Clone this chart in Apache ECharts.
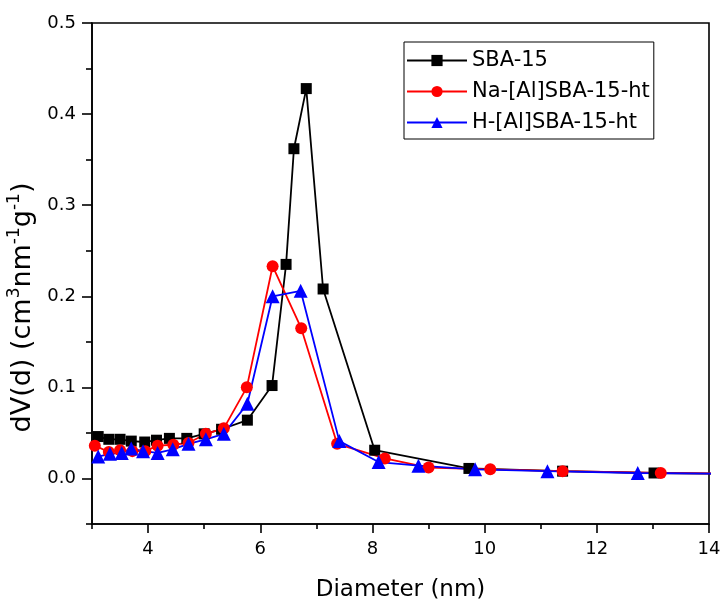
<!DOCTYPE html>
<html>
<head>
<meta charset="utf-8">
<script src="https://cdn.jsdelivr.net/npm/echarts@6/dist/echarts.min.js"></script>
<style>
  html, body { margin: 0; padding: 0; background: #fff; }
  #chart { width: 721px; height: 599px; }
</style>
</head>
<body>
<div id="chart"></div>
<script>
// pore size distribution
var seriesNames = ['SBA-15', 'Na-[Al]SBA-15-ht', 'H-[Al]SBA-15-ht'];

var sbaX = [3.11, 3.30, 3.50, 3.70, 3.94, 4.15, 4.38, 4.69, 5.00, 5.31, 5.77, 6.21, 6.46, 6.60, 6.82, 7.12, 8.04, 9.72, 11.39, 13.02, 14.7];
var sbaY = [0.046, 0.043, 0.043, 0.041, 0.040, 0.042, 0.044, 0.044, 0.049, 0.054, 0.064, 0.102, 0.235, 0.362, 0.428, 0.208, 0.031, 0.011, 0.008, 0.006, 0.005];

var naX = [3.05, 3.30, 3.50, 3.72, 3.95, 4.17, 4.45, 4.72, 5.03, 5.35, 5.76, 6.22, 6.73, 7.37, 8.22, 9.00, 10.10, 11.39, 13.14, 14.9];
var naY = [0.036, 0.029, 0.031, 0.030, 0.030, 0.036, 0.037, 0.039, 0.049, 0.055, 0.100, 0.233, 0.165, 0.038, 0.022, 0.012, 0.010, 0.008, 0.006, 0.005];

var hX = [3.11, 3.32, 3.53, 3.70, 3.91, 4.17, 4.44, 4.72, 5.03, 5.35, 5.77, 6.22, 6.72, 7.41, 8.11, 8.82, 9.83, 11.12, 12.73, 14.4];
var hY = [0.024, 0.027, 0.028, 0.033, 0.030, 0.028, 0.032, 0.038, 0.043, 0.049, 0.082, 0.200, 0.206, 0.041, 0.018, 0.014, 0.010, 0.008, 0.006, 0.005];

// ticks
var xMajor = [4, 6, 8, 10, 12, 14];
var xMinor = [3, 5, 7, 9, 11, 13];
var yMajor = [0, 0.1, 0.2, 0.3, 0.4, 0.5];
var yMinor = [-0.05, 0.05, 0.15, 0.25, 0.35, 0.45];

function pairs(xs, ys) {
  var out = [];
  for (var i = 0; i < xs.length; i++) out.push([xs[i], ys[i]]);
  return out;
}

var font = 'DejaVu Sans, Verdana, sans-serif';
var myChart = echarts.init(document.getElementById('chart'));

function makeSeries(name, data, color, symbol, size) {
  return {
    name: name,
    type: 'line',
    xAxisIndex: 0,
    yAxisIndex: 0,
    data: data,
    symbol: symbol,
    symbolSize: size,
    showAllSymbol: true,
    clip: true,
    color: color,
    lineStyle: { color: color, width: 1.8 },
    itemStyle: { color: color },
    emphasis: { disabled: true },
    animation: false
  };
}

var axisLineStyle = { color: '#000', width: 1.6 };

var option = {
  animation: false,
  grid: {
    left: 92, right: 12, top: 23, bottom: 75,
    outerBoundsMode: 'none',
    containLabel: false,
    show: true, borderColor: '#000', borderWidth: 1.6, backgroundColor: 'transparent'
  },
  legend: {
    orient: 'vertical',
    left: 404, top: 42,
    padding: [8, 4, 6, 2],
    borderColor: '#000', borderWidth: 1,
    itemWidth: 60, itemHeight: 14,
    itemGap: 10,
    textStyle: { fontFamily: font, fontSize: 21, color: '#000' },
    data: seriesNames
  },
  xAxis: [{
    type: 'value',
    position: 'bottom',
    min: 3, max: 14,
    name: 'Diameter (nm)',
    nameLocation: 'middle',
    nameGap: 55,
    nameTextStyle: { fontFamily: font, fontSize: 23, color: '#000' },
    axisLine: { onZero: false, lineStyle: axisLineStyle },
    axisTick: { inside: false, length: 9, customValues: xMajor, lineStyle: axisLineStyle },
    axisLabel: { fontFamily: font, fontSize: 18, color: '#000', margin: 16, customValues: xMajor },
    splitLine: { show: false }
  }, {
    type: 'value',
    position: 'bottom',
    min: 3, max: 14,
    axisLine: { show: false, onZero: false },
    axisTick: { inside: false, length: 5, customValues: xMinor, lineStyle: axisLineStyle },
    axisLabel: { show: false },
    splitLine: { show: false }
  }],
  yAxis: [{
    type: 'value',
    position: 'left',
    min: -0.05, max: 0.5,
    name: '{a|dV(d) (cm}{s|3}{a|nm}{s|-1}{a|g}{s|-1}{a|)}',
    nameLocation: 'middle',
    nameGap: 46,
    nameTextStyle: {
      fontFamily: font, fontSize: 27, color: '#000',
      padding: [0, 68, 0, 0],
      rich: {
        a: { fontFamily: font, fontSize: 27, color: '#000', lineHeight: 30, verticalAlign: 'bottom' },
        s: { fontFamily: font, fontSize: 17, color: '#000', lineHeight: 30, verticalAlign: 'top' }
      }
    },
    axisLine: { onZero: false, lineStyle: axisLineStyle },
    axisTick: { inside: false, length: 10, customValues: yMajor, lineStyle: axisLineStyle },
    axisLabel: {
      fontFamily: font, fontSize: 18, color: '#000', margin: 16, customValues: yMajor,
      formatter: function (v) { return v.toFixed(1); }
    },
    splitLine: { show: false }
  }, {
    type: 'value',
    position: 'left',
    min: -0.05, max: 0.5,
    axisLine: { show: false, onZero: false },
    axisTick: { inside: false, length: 6, customValues: yMinor, lineStyle: axisLineStyle },
    axisLabel: { show: false },
    splitLine: { show: false }
  }],
  series: [
    makeSeries(seriesNames[0], pairs(sbaX, sbaY), '#000000', 'rect', 11),
    makeSeries(seriesNames[1], pairs(naX, naY), '#ff0000', 'circle', 12),
    makeSeries(seriesNames[2], pairs(hX, hY), '#0000ff', 'triangle', 14)
  ]
};

myChart.setOption(option);
</script>
</body>
</html>
